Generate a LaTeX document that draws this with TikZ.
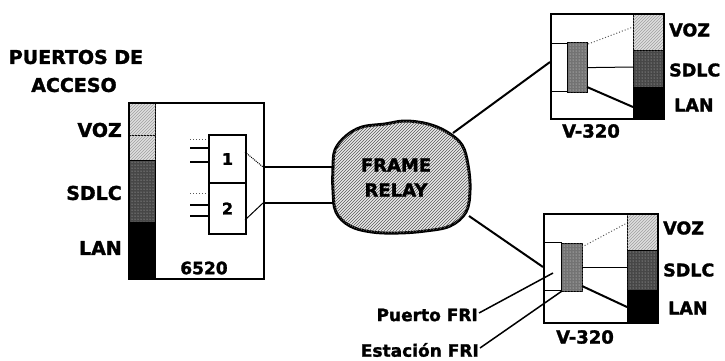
\documentclass[tikz,border=0pt]{standalone}
\usepackage{fontspec}
\setmainfont{DejaVu Sans}[BoldFeatures={FakeBold=1.6}]
\usetikzlibrary{patterns}
\tikzset{
  x=1pt, y=-1pt,
  box/.style={draw, line width=1.6pt, inner sep=0pt, anchor=north west},
  cell/.style={draw, line width=0.8pt, inner sep=0pt, anchor=north west},
  vozfill/.style={fill=gray!25, postaction={pattern=north east lines, pattern color=gray!75}},
  sdlcfill/.style={fill=black!72, postaction={pattern=dots, pattern color=gray!45}},
  lanfill/.style={fill=black},
  grayfill/.style={fill=black!55, postaction={pattern=dots, pattern color=gray!20}},
  lblL/.style={font=\bfseries\fontsize{19}{19}\selectfont, inner sep=0pt},
  lblR/.style={font=\bfseries\fontsize{17.5}{17.5}\selectfont, inner sep=0pt},
  lblS/.style={font=\bfseries\fontsize{16}{16}\selectfont, inner sep=0pt},
  wire/.style={line width=2pt},
  thinwire/.style={line width=1pt},
  dotwire/.style={line width=1pt, dotted, gray!70!black},
}
\begin{document}
\begin{tikzpicture}
\useasboundingbox (0,0) rectangle (725,360);

% ---------- left: 6520 ----------
\node[cell, vozfill, minimum width=27pt, minimum height=33pt] (lv1) at (128,102) {};
\node[cell, vozfill, minimum width=27pt, minimum height=25pt] (lv2) at (128,135) {};
\node[cell, sdlcfill, minimum width=27pt, minimum height=62pt] (ls) at (128,160) {};
\node[cell, lanfill, minimum width=27pt, minimum height=56pt] (ll) at (128,222) {};
\node[box, minimum width=135pt, minimum height=176pt] (b6520) at (128,102) {};

\node[box, line width=2pt, minimum width=37pt, minimum height=48pt] (p1) at (208,134) {};
\node[box, line width=2pt, minimum width=37pt, minimum height=51pt] (p2) at (208,182) {};
\node[lblS] (n1) at (p1.center) {1};
\node[lblS] (n2) at (p2.center) {2};

% stubs
\coordinate (s1a) at (190,139); \coordinate (s1b) at (190,148); \coordinate (s1c) at (190,162);
\coordinate (s2a) at (190,193); \coordinate (s2b) at (190,205); \coordinate (s2c) at (190,216);
\draw[dotwire] (s1a) -- (s1a -| p1.west);
\draw[wire] (s1b) -- (s1b -| p1.west);
\draw[wire] (s1c) -- (s1c -| p1.west);
\draw[dotwire] (s2a) -- (s2a -| p2.west);
\draw[wire] (s2b) -- (s2b -| p2.west);
\draw[wire] (s2c) -- (s2c -| p2.west);

% port to edge
\coordinate (e1) at (263,167); \coordinate (e2) at (263,203);
\coordinate (q1) at (245,152); \coordinate (q2) at (245,220);
\draw[thinwire, densely dotted] (q1) -- (e1);
\draw[thinwire] (q2) -- (e2);

% labels left
\node[lblL] (t1) at (76,57) {PUERTOS DE};
\node[lblL] (t2) at (74,85) {ACCESO};
\node[lblL, anchor=east] (lvoz) at (122,130) {VOZ};
\node[lblL, anchor=east] (lsdlc) at (122,193) {SDLC};
\node[lblL, anchor=east] (llan) at (122,248) {LAN};
\node[font=\bfseries\fontsize{17}{17}\selectfont, inner sep=0pt] (l6520) at (204,268) {6520};

% ---------- cloud ----------
\draw[line width=3pt, fill=gray!18, postaction={pattern=north east lines, pattern color=gray!70!black}]
  plot[smooth cycle, tension=0.6] coordinates {
   (335,150) (346,136) (362,127) (385,124) (405,121) (428,124) (447,132)
   (462,145) (468,165) (470,190) (466,212) (450,226) (425,231) (398,233)
   (372,232) (350,226) (336,212) (333,190) (333,168)};
\node[font=\bfseries\fontsize{18}{18}\selectfont, inner sep=0pt] (fr) at (396,165) {FRAME};
\node[font=\bfseries\fontsize{18}{18}\selectfont, inner sep=0pt] (rl) at (396,190) {RELAY};
\coordinate (c1) at (334,167); \coordinate (c2) at (334,203);
\coordinate (c3) at (453,133); \coordinate (c4) at (469,216);
\draw[wire] (e1) -- (c1);
\draw[wire] (e2) -- (c2);

% ---------- top V-320 ----------
\node[cell, vozfill, minimum width=30pt, minimum height=37pt] (tv) at (633,13) {};
\node[cell, sdlcfill, minimum width=30pt, minimum height=37pt] (ts) at (633,50) {};
\node[cell, lanfill, minimum width=30pt, minimum height=31pt] (tl) at (633,87) {};
\node[box, minimum width=113pt, minimum height=105pt] (tb) at (550,13) {};
\node[cell, line width=1.2pt, minimum width=17pt, minimum height=48pt] (tw) at (550,43) {};
\node[cell, line width=1.2pt, grayfill, minimum width=20pt, minimum height=50pt] (tg) at (567,42) {};
\draw[dotwire] (tg.north east) ++(0,2) -- (633,27);
\draw[thinwire] (tg.east) -- (633,67);
\draw[wire] (587,87) -- (633,107);
\coordinate (tin) at (550,62);
\draw[wire] (c3) -- (tin);
\node[lblR, anchor=west] (tvoz) at (669,30) {VOZ};
\node[lblR, anchor=west] (tsdlc) at (669,70) {SDLC};
\node[lblR, anchor=west] (tlan) at (674,105) {LAN};
\node[font=\bfseries\fontsize{18}{18}\selectfont, inner sep=0pt] (tname) at (591,131) {V-320};

% ---------- bottom V-320 ----------
\node[cell, vozfill, minimum width=30pt, minimum height=37pt] (bv) at (627,213) {};
\node[cell, sdlcfill, minimum width=30pt, minimum height=40pt] (bs) at (627,250) {};
\node[cell, lanfill, minimum width=30pt, minimum height=32pt] (bl) at (627,290) {};
\node[box, minimum width=114pt, minimum height=109pt] (bb) at (543,213) {};
\node[cell, line width=1.2pt, minimum width=18pt, minimum height=48pt] (bw) at (543,242) {};
\node[cell, line width=1.2pt, grayfill, minimum width=21pt, minimum height=48pt] (bg) at (561,243) {};
\draw[dotwire] (582,247) -- (627,223);
\draw[thinwire] (582,267) -- (627,267);
\draw[wire] (582,286) -- (627,307);
\coordinate (bin) at (543,267);
\draw[wire] (c4) -- (bin);
\node[lblR, anchor=west] (bvoz) at (663,228) {VOZ};
\node[lblR, anchor=west] (bsdlc) at (663,270) {SDLC};
\node[lblR, anchor=west] (blan) at (668,308) {LAN};
\node[font=\bfseries\fontsize{18}{18}\selectfont, inner sep=0pt] (bname) at (585,337) {V-320};

% FRI labels
\node[font=\bfseries\fontsize{17}{17}\selectfont, inner sep=0pt, anchor=east] (pfri) at (478,315) {Puerto FRI};
\node[font=\bfseries\fontsize{17}{17}\selectfont, inner sep=0pt, anchor=east] (efri) at (479,350) {Estación FRI};
\coordinate (pt) at (553,273);
\coordinate (et) at (562,291);
\draw[line width=1.5pt] (pfri.east) ++(1,-2) -- (pt);
\draw[line width=1.5pt] (efri.east) ++(1,-2) -- (et);
\end{tikzpicture}
\end{document}
